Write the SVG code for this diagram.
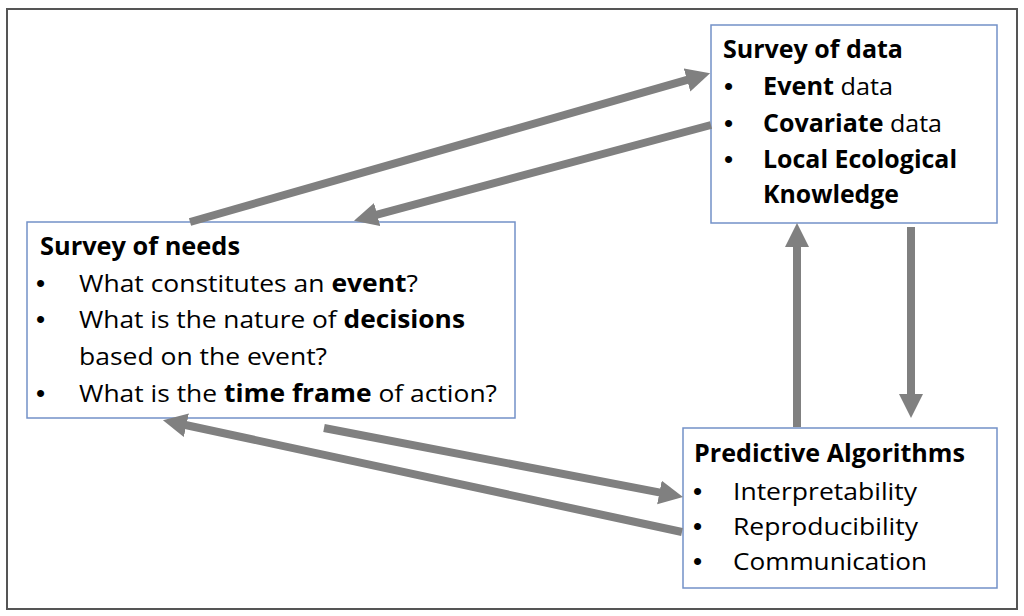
<svg xmlns="http://www.w3.org/2000/svg" width="1024" height="616" viewBox="0 0 1024 616">
<style>
.box{fill:#fff;stroke:#7391c8;stroke-width:1.5}
.t{font-family:"Open Sans","Liberation Sans",sans-serif;font-size:24.5px;fill:#000}
.b{font-weight:700}
.bu{font-family:"Liberation Sans",sans-serif;font-size:26px;fill:#000}
.con{stroke:#808080;stroke-width:8;fill:none;marker-end:url(#ah)}
</style>
<defs>
<marker id="ah" markerUnits="userSpaceOnUse" markerWidth="26" markerHeight="26" refX="1" refY="12" orient="auto">
<path d="M0,0 L24,12 L0,24 z" fill="#808080"/>
</marker>
</defs>
<rect x="0" y="0" width="1024" height="616" fill="#fff"/>
<rect x="7" y="9" width="1010" height="600" fill="none" stroke="#555" stroke-width="2"/>

<g id="needs">
<rect class="box" x="27" y="222" width="488" height="196"/>
<text class="t b" x="40" y="255" textLength="200" lengthAdjust="spacingAndGlyphs">Survey of needs</text>
<text class="bu" x="36" y="292">•</text>
<text class="t" x="79" y="292" textLength="339" lengthAdjust="spacingAndGlyphs">What constitutes an <tspan class="b">event</tspan>?</text>
<text class="bu" x="36" y="328">•</text>
<text class="t" x="79" y="328" textLength="386" lengthAdjust="spacingAndGlyphs">What is the nature of <tspan class="b">decisions</tspan></text>
<text class="t" x="79" y="365" textLength="248" lengthAdjust="spacingAndGlyphs">based on the event?</text>
<text class="bu" x="36" y="402">•</text>
<text class="t" x="79" y="402" textLength="418" lengthAdjust="spacingAndGlyphs">What is the <tspan class="b">time frame</tspan> of action?</text>
</g>

<g id="data">
<rect class="box" x="711" y="25" width="286" height="198"/>
<text class="t b" x="723" y="58" textLength="180" lengthAdjust="spacingAndGlyphs">Survey of data</text>
<text class="bu" x="724" y="95">•</text>
<text class="t" x="763" y="95" textLength="130" lengthAdjust="spacingAndGlyphs"><tspan class="b">Event</tspan> data</text>
<text class="bu" x="724" y="132">•</text>
<text class="t" x="763" y="132" textLength="179" lengthAdjust="spacingAndGlyphs"><tspan class="b">Covariate</tspan> data</text>
<text class="bu" x="724" y="168">•</text>
<text class="t b" x="763" y="168" textLength="194" lengthAdjust="spacingAndGlyphs">Local Ecological</text>
<text class="t b" x="763" y="203" textLength="136" lengthAdjust="spacingAndGlyphs">Knowledge</text>
</g>

<g id="algorithms">
<rect class="box" x="683" y="428" width="314" height="160"/>
<text class="t b" x="694" y="462" textLength="271" lengthAdjust="spacingAndGlyphs">Predictive Algorithms</text>
<text class="bu" x="693" y="500">•</text>
<text class="t" x="733" y="500" textLength="184" lengthAdjust="spacingAndGlyphs">Interpretability</text>
<text class="bu" x="693" y="535">•</text>
<text class="t" x="733" y="535" textLength="185" lengthAdjust="spacingAndGlyphs">Reproducibility</text>
<text class="bu" x="693" y="570">•</text>
<text class="t" x="733" y="570" textLength="194" lengthAdjust="spacingAndGlyphs">Communication</text>
</g>

<g id="connectors">
<line class="con" x1="190" y1="222" x2="688" y2="79.6"/>
<line class="con" x1="711" y1="125" x2="376.2" y2="214.8"/>
<line class="con" x1="797" y1="427" x2="797" y2="246"/>
<line class="con" x1="911" y1="227" x2="911" y2="395"/>
<line class="con" x1="324" y1="428" x2="660.4" y2="492.6"/>
<line class="con" x1="682" y1="532" x2="185.4" y2="425"/>
</g>
</svg>
